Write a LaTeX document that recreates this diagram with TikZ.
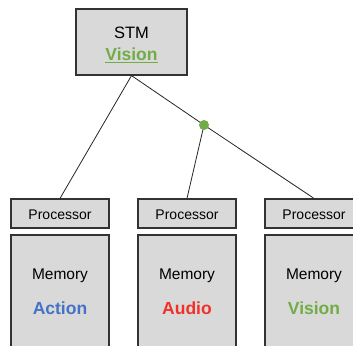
\documentclass[tikz,border=0pt]{standalone}
\usepackage{fontspec}
\setmainfont{Liberation Sans}
\definecolor{boxgray}{HTML}{D9D9D9}
\definecolor{edgegray}{HTML}{333333}
\definecolor{actblue}{HTML}{4472C4}
\definecolor{audred}{HTML}{F0312A}
\definecolor{visgreen}{HTML}{70AD47}
\begin{document}
\begin{tikzpicture}[x=1pt,y=-1pt,
  box/.style={draw=edgegray,fill=boxgray,line width=1.2pt,inner sep=0pt},
  proc/.style={box,minimum width=98pt,minimum height=29pt},
  proctxt/.style={font=\fontsize{14}{16}\selectfont},
  mem/.style={box,minimum width=98pt,minimum height=130pt},
  memtxt/.style={font=\fontsize{15.5}{18}\selectfont},
  tagtxt/.style={font=\fontsize{17.5}{20}\selectfont\bfseries},
  link/.style={draw=black!85,line width=0.8pt}]
  \clip (0,0) rectangle (353,345);
  \fill[white] (0,0) rectangle (353,345);

  % short-term memory block
  \node[box,minimum width=111pt,minimum height=66pt] (stm) at (131.5,42) {};
  \node[font=\fontsize{16.5}{19}\selectfont] (stmlabel) at (131.5,33) {STM};
  \node[tagtxt,text=visgreen] (stmtag) at (131.5,55) {\underline{Vision}};

  % processors
  \node[proc] (p1) at (60,213.5) {};
  \node[proc] (p2) at (187,213.5) {};
  \node[proc] (p3) at (314,213.5) {};
  \node[proctxt] (p1t) at (60,215) {Processor};
  \node[proctxt] (p2t) at (187,215) {Processor};
  \node[proctxt] (p3t) at (314,215) {Processor};

  % memories
  \node[mem] (m1) at (60,300) {};
  \node[mem] (m2) at (187,300) {};
  \node[mem] (m3) at (314,300) {};
  \node[memtxt] (m1t) at (60,276) {Memory};
  \node[memtxt] (m2t) at (187,276) {Memory};
  \node[memtxt] (m3t) at (314,276) {Memory};
  \node[tagtxt,text=actblue] (m1g) at (60,308) {Action};
  \node[tagtxt,text=audred] (m2g) at (187,308) {Audio};
  \node[tagtxt,text=visgreen] (m3g) at (314,308) {Vision};

  % branching point
  \coordinate (fork) at (204,125);

  % connectors
  \draw[link] (stm.south) -- (p1.north);
  \draw[link] (stm.south) -- (fork) -- (p3.north);
  \draw[link] (fork) -- (p2.north);
  \node[circle,fill=visgreen,minimum size=10pt,inner sep=0pt] (dot) at (fork) {};
\end{tikzpicture}
\end{document}
